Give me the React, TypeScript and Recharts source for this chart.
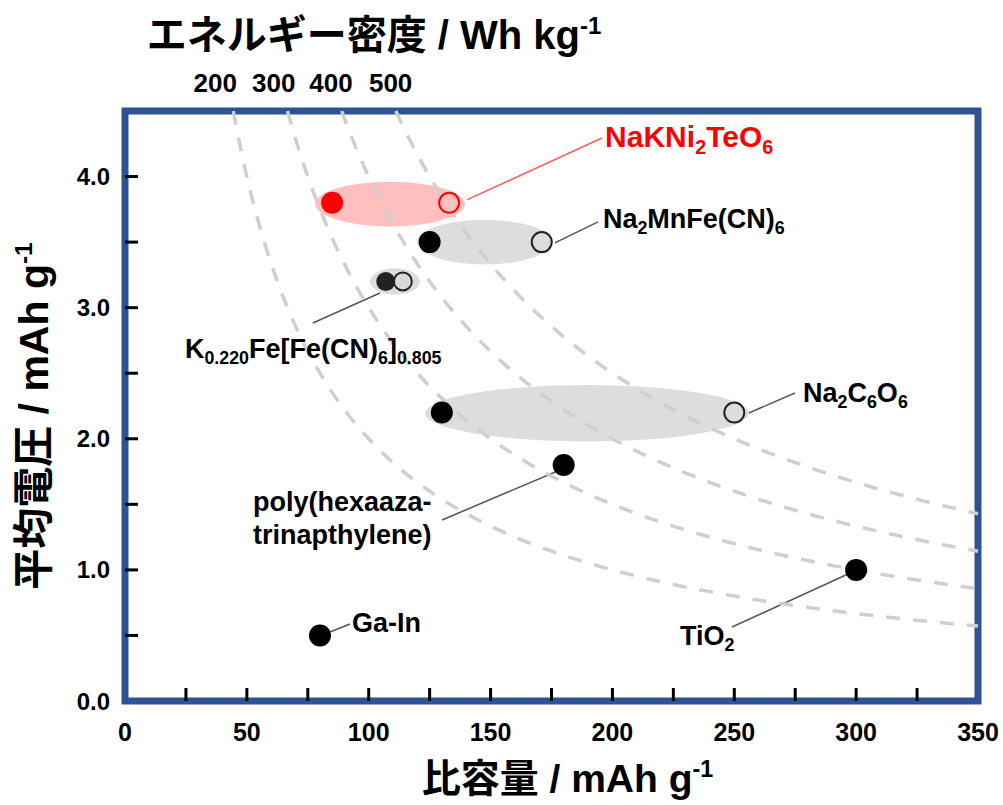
import { ReferenceArea, ReferenceDot, ReferenceLine, Scatter, ScatterChart, XAxis, YAxis } from 'recharts';

const LATIN = '"Liberation Sans", Arial, Helvetica, sans-serif';
const CJK = '"Noto Sans CJK JP", "Noto Sans CJK SC", sans-serif';
const FRAME = '#2E5394';
const RED = '#FF0000';

const X_MAX = 350;
const Y_MAX = 4.5;
const X_TICKS = [0, 25, 50, 75, 100, 125, 150, 175, 200, 225, 250, 275, 300, 325, 350];
const Y_TICKS = [0, 0.5, 1, 1.5, 2, 2.5, 3, 3.5, 4, 4.5];

// materials: capacity (mAh/g) at the filled point, at the open point, and average voltage (V)
const MATERIALS = ['NaKNi2TeO6', 'Na2MnFe(CN)6', 'K0.220Fe[Fe(CN)6]0.805', 'Na2C6O6', 'poly(hexaazatrinapthylene)', 'TiO2', 'Ga-In'];
const CAPACITY_LOW = [85, 125, 107, 130, 180, 300, 80];
const CAPACITY_HIGH = [133, 171, 114, 250, null, null, null];
const VOLTAGE = [3.8, 3.5, 3.2, 2.2, 1.8, 1.0, 0.5];

// shaded ranges behind the paired points (first four materials)
const RANGE_CAP_MIN = [78, 119.8, 100.5, 123.1];
const RANGE_CAP_MAX = [139.5, 175.2, 121, 256.1];
const RANGE_V_MIN = [3.62, 3.33, 3.1, 1.98];
const RANGE_V_MAX = [3.96, 3.67, 3.3, 2.41];

// iso energy-density guide curves (Wh/kg) and where their labels sit on the top edge
const ENERGY_LEVELS = [200, 300, 400, 500];
const ENERGY_LABEL_CAP = [37, 61, 84.5, 109];

type Part = [string, ('sub' | 'sup')?];

const LABELS: { parts: Part[]; at: [number, number]; size: number; color: string }[] = [
  { parts: [['NaKNi'], ['2', 'sub'], ['TeO'], ['6', 'sub']], at: [197, 4.226], size: 30, color: RED },
  { parts: [['Na'], ['2', 'sub'], ['MnFe(CN)'], ['6', 'sub']], at: [196.1, 3.608], size: 27, color: '#000' },
  { parts: [['K'], ['0.220', 'sub'], ['Fe[Fe(CN)'], ['6', 'sub'], [']'], ['0.805', 'sub']], at: [24.6, 2.616], size: 27, color: '#000' },
  { parts: [['Na'], ['2', 'sub'], ['C'], ['6', 'sub'], ['O'], ['6', 'sub']], at: [278.2, 2.281], size: 27, color: '#000' },
  { parts: [['poly(hexaaza-']], at: [52.5, 1.449], size: 27, color: '#000' },
  { parts: [['trinapthylene)']], at: [52.5, 1.198], size: 27, color: '#000' },
  { parts: [['TiO'], ['2', 'sub']], at: [227.7, 0.427], size: 27, color: '#000' },
  { parts: [['Ga-In']], at: [93.1, 0.526], size: 27, color: '#000' },
];

const LEADERS: { from: [number, number]; to: [number, number]; color: string }[] = [
  { from: [140.3, 3.822], to: [195.7, 4.294], color: '#FF5A5A' },
  { from: [176.4, 3.494], to: [194.1, 3.654], color: '#555' },
  { from: [104.6, 3.112], to: [77.1, 2.883], color: '#555' },
  { from: [256.0, 2.197], to: [274.9, 2.349], color: '#555' },
  { from: [178.5, 1.762], to: [130.1, 1.381], color: '#555' },
  { from: [296.7, 0.969], to: [249.1, 0.564], color: '#555' },
  { from: [84.1, 0.526], to: [92.3, 0.587], color: '#555' },
];

function isoCurve(energy: number) {
  const pts = [];
  const start = energy / Y_MAX;
  const n = 90;
  for (let i = 0; i <= n; i++) {
    const c = start * Math.pow(X_MAX / start, i / n);
    pts.push({ x: c, y: energy / c });
  }
  return pts;
}

const filledPoints = MATERIALS.map((name, i) => ({ name, x: CAPACITY_LOW[i], y: VOLTAGE[i], idx: i }));
const openPoints = MATERIALS.map((name, i) => ({ name, x: CAPACITY_HIGH[i], y: VOLTAGE[i], idx: i })).filter(
  (p) => p.x !== null,
);

function FilledDot(props: any) {
  const { cx, cy, payload } = props;
  if (cx == null || cy == null) return <g />;
  const fill = payload.idx === 0 ? RED : payload.idx === 2 ? '#222' : '#000';
  const r = payload.idx === 2 ? 9.5 : 11;
  return <circle cx={cx} cy={cy} r={r} fill={fill} />;
}

function OpenDot(props: any) {
  const { cx, cy, payload } = props;
  if (cx == null || cy == null) return <g />;
  const stroke = payload.idx === 0 ? RED : '#222';
  const fill = payload.idx === 2 ? '#D9D9D9' : 'none';
  const r = payload.idx === 2 ? 9 : 10;
  return <circle cx={cx} cy={cy} r={r} fill={fill} stroke={stroke} strokeWidth={2} />;
}

function NoMarker() {
  return <g />;
}

function Chem({ x, y, parts, size, color }: { x: number; y: number; parts: Part[]; size: number; color: string }) {
  let shift = 0;
  const spans = parts.map(([t, kind], i) => {
    const target = kind === 'sub' ? size * 0.24 : kind === 'sup' ? -size * 0.38 : 0;
    const dy = target - shift;
    shift = target;
    return (
      <tspan key={i} dy={dy} fontSize={kind ? size * 0.66 : size}>
        {t}
      </tspan>
    );
  });
  return (
    <text x={x} y={y} fill={color} fontFamily={LATIN} fontWeight="bold" fontSize={size}>
      {spans}
    </text>
  );
}

function Title({ x, y, size, cjk, latin, rotate }: { x: number; y: number; size: number; cjk: string; latin: string; rotate?: boolean }) {
  return (
    <text
      x={x}
      y={y}
      textAnchor="middle"
      fontWeight="bold"
      fontSize={size}
      fill="#000"
      transform={rotate ? `rotate(-90 ${x} ${y})` : undefined}
    >
      <tspan fontFamily={CJK}>{cjk}</tspan>
      <tspan fontFamily={LATIN}>{` / ${latin}`}</tspan>
      <tspan fontFamily={LATIN} fontSize={size * 0.6} dy={-size * 0.38}>
        -1
      </tspan>
    </text>
  );
}

function BottomTick(props: any) {
  const { x, y, payload } = props;
  const v = payload.value;
  return (
    <g>
      {v > 0 && v < X_MAX && <line x1={x} x2={x} y1={y} y2={y - 13} stroke="#000" strokeWidth={3} />}
      {v % 50 === 0 && (
        <text x={x} y={y + 40} textAnchor="middle" fontFamily={LATIN} fontWeight="bold" fontSize={25} fill="#000">
          {v}
        </text>
      )}
    </g>
  );
}

function LeftTick(props: any) {
  const { x, y, payload } = props;
  const v = payload.value;
  return (
    <g>
      {v > 0 && v < Y_MAX && <line x1={x} x2={x + 13} y1={y} y2={y} stroke="#000" strokeWidth={3} />}
      {Number.isInteger(v) && (
        <text x={x - 15} y={y + 8.5} textAnchor="end" fontFamily={LATIN} fontWeight="bold" fontSize={24} fill="#000">
          {v.toFixed(1)}
        </text>
      )}
    </g>
  );
}

function TopTick(props: any) {
  const { x, y, payload } = props;
  const k = ENERGY_LABEL_CAP.findIndex((c) => Math.abs(c - payload.value) < 1e-6);
  if (k < 0) return <g />;
  return (
    <text x={x} y={y - 19} textAnchor="middle" fontFamily={LATIN} fontWeight="bold" fontSize={26} fill="#000">
      {ENERGY_LEVELS[k]}
    </text>
  );
}

function Ellipse(props: any) {
  const { x, y, width, height, fill, fillOpacity } = props;
  return <ellipse cx={x + width / 2} cy={y + height / 2} rx={width / 2} ry={height / 2} fill={fill} fillOpacity={fillOpacity} />;
}

export default function App() {
  return (
    <div style={{ position: 'absolute', left: 0, top: 0, width: 1003, height: 805, background: '#fff' }}>
      <ScatterChart width={1003} height={805} margin={{ top: 81, right: 25, left: 0, bottom: 0 }}>
        <XAxis
          dataKey="x"
          type="number"
          domain={[0, X_MAX]}
          ticks={X_TICKS}
          interval={0}
          axisLine={false}
          tickLine={false}
          tickSize={0}
          tickMargin={0}
          height={104}
          tick={BottomTick}
          label={(p: any) => <Title x={p.viewBox.x + p.viewBox.width / 2 + 16} y={p.viewBox.y + 91} size={39} cjk="比容量" latin="mAh g" />}
        />
        <XAxis
          xAxisId="top"
          orientation="top"
          dataKey="x"
          type="number"
          domain={[0, X_MAX]}
          allowDataOverflow
          ticks={ENERGY_LABEL_CAP}
          interval={0}
          axisLine={false}
          tickLine={false}
          tickSize={0}
          tickMargin={0}
          height={30}
          tick={TopTick}
          label={(p: any) => <Title x={374} y={p.viewBox.y - 32} size={40} cjk="エネルギー密度" latin="Wh kg" />}
        />
        <YAxis
          dataKey="y"
          type="number"
          domain={[0, Y_MAX]}
          ticks={Y_TICKS}
          interval={0}
          axisLine={false}
          tickLine={false}
          tickSize={0}
          tickMargin={0}
          width={125}
          tick={LeftTick}
          label={(p: any) => <Title x={48} y={p.viewBox.y + p.viewBox.height / 2 + 10} size={41} cjk="平均電圧" latin="mAh g" rotate />}
        />

        {ENERGY_LEVELS.map((e) => (
          <Scatter
            key={`iso-${e}`}
            data={isoCurve(e)}
            dataKey="y"
            line={{ stroke: '#CFCFCF', strokeWidth: 3.5, strokeDasharray: '14 13' }}
            lineType="joint"
            shape={NoMarker}
            isAnimationActive={false}
          />
        ))}

        {RANGE_CAP_MIN.map((_, i) => (
          <ReferenceArea
            key={`range-${i}`}
            x1={RANGE_CAP_MIN[i]}
            x2={RANGE_CAP_MAX[i]}
            y1={RANGE_V_MIN[i]}
            y2={RANGE_V_MAX[i]}
            fill={i === 0 ? '#FF0000' : '#999999'}
            fillOpacity={i === 0 ? 0.25 : 0.33}
            shape={Ellipse}
          />
        ))}

        {LEADERS.map((l, i) => (
          <ReferenceLine
            key={`leader-${i}`}
            segment={[
              { x: l.from[0], y: l.from[1] },
              { x: l.to[0], y: l.to[1] },
            ]}
            stroke={l.color}
            strokeWidth={1.5}
          />
        ))}

        <Scatter data={openPoints} dataKey="y" shape={OpenDot} isAnimationActive={false} />
        <Scatter data={filledPoints} dataKey="y" shape={FilledDot} isAnimationActive={false} />

        {LABELS.map((lb, i) => (
          <ReferenceDot
            key={`label-${i}`}
            x={lb.at[0]}
            y={lb.at[1]}
            r={0}
            fill="none"
            stroke="none"
            label={(p: any) => <Chem x={p.viewBox.x} y={p.viewBox.y} parts={lb.parts} size={lb.size} color={lb.color} />}
          />
        ))}

        <ReferenceArea x1={0} x2={X_MAX} y1={0} y2={Y_MAX} fill="none" fillOpacity={0} stroke={FRAME} strokeWidth={7} />
      </ScatterChart>
    </div>
  );
}
